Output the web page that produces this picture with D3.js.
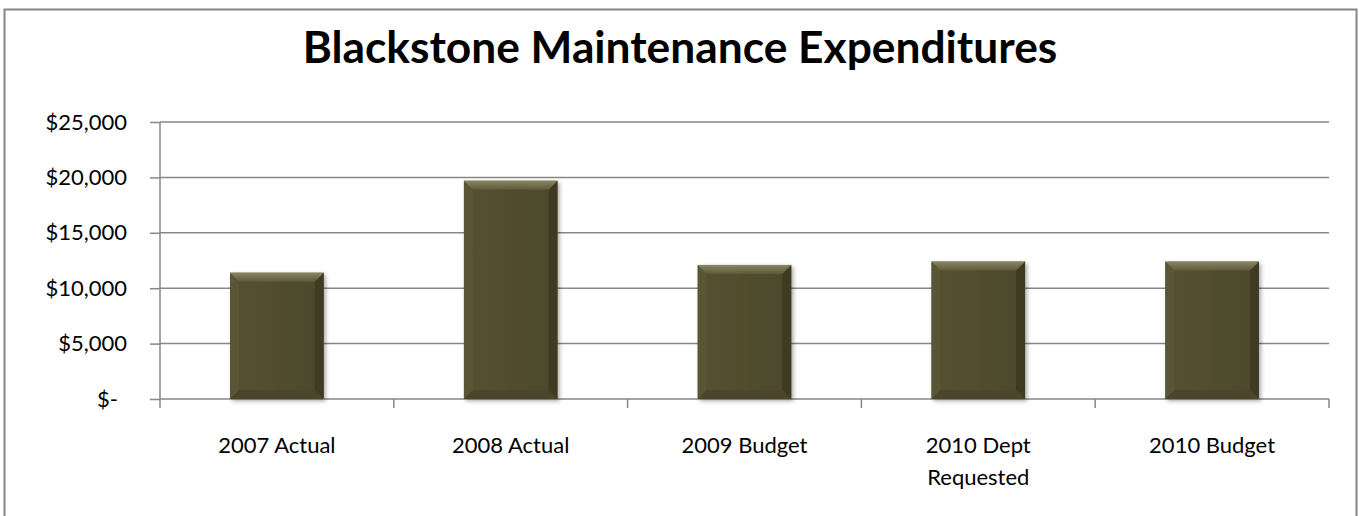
<!DOCTYPE html>
<html>
<head>
<meta charset="utf-8">
<script src="https://cdn.jsdelivr.net/npm/d3@7"></script>
<style>
  body { margin: 0; background: #fff; }
  text { font-family: Lato, "Open Sans", sans-serif; fill: #000; }
</style>
</head>
<body>
<div id="chart"></div>
<script>
// Chart data
let categories = ['2007 Actual', '2008 Actual', '2009 Budget', '2010 Dept Requested', '2010 Budget'];
let expenditures = [11400, 19700, 12100, 12400, 12400];
let yTicks = [0, 5000, 10000, 15000, 20000, 25000];
let chartTitle = 'Blackstone Maintenance Expenditures';

// Svg and plot dimensions
let svgWidth = 1359;
let svgHeight = 516;
let margins = { top: 122, bottom: 117, left: 160, right: 30 };
let plotWidth = svgWidth - margins.left - margins.right;
let plotHeight = svgHeight - margins.top - margins.bottom;
let labelSize = 22;

let svg = d3.select('#chart').append('svg')
    .attr('width', svgWidth)
    .attr('height', svgHeight);

// Defs: shading for the bevelled bars
let defs = svg.append('defs');
let face = defs.append('linearGradient').attr('id', 'face')
    .attr('x1', 0).attr('x2', 1).attr('y1', 0).attr('y2', 0);
face.append('stop').attr('offset', '0%').attr('stop-color', '#565132');
face.append('stop').attr('offset', '100%').attr('stop-color', '#4d482c');
let topBevel = defs.append('linearGradient').attr('id', 'topBevel')
    .attr('x1', 0).attr('x2', 0).attr('y1', 0).attr('y2', 1);
topBevel.append('stop').attr('offset', '0%').attr('stop-color', '#8a8563');
topBevel.append('stop').attr('offset', '100%').attr('stop-color', '#5e5939');
let shadow = defs.append('filter').attr('id', 'shadow')
    .attr('x', '-20%').attr('y', '-20%').attr('width', '140%').attr('height', '140%');
shadow.append('feDropShadow')
    .attr('dx', 2).attr('dy', 2).attr('stdDeviation', 2)
    .attr('flood-color', '#000').attr('flood-opacity', 0.35);

// Outer chart border
svg.append('rect')
    .attr('x', 4.5).attr('y', 9.5)
    .attr('width', 1352).attr('height', 520)
    .attr('fill', 'none')
    .attr('stroke', '#868686')
    .attr('stroke-width', 2);

let chart = svg.append('g')
    .attr('transform', `translate(${margins.left}, ${margins.top})`);

// Scales
let xScale = d3.scaleBand()
    .domain(categories)
    .range([0, plotWidth])
    .paddingInner(0.6)
    .paddingOuter(0.3);
let xBounds = d3.scaleBand().domain(categories).range([0, plotWidth]);
let yScale = d3.scaleLinear()
    .domain([0, 25000])
    .range([plotHeight, 0]);

// Gridlines
chart.selectAll('line.grid')
    .data(yTicks.slice(1)).enter()
    .append('line')
    .attr('class', 'grid')
    .attr('x1', 0).attr('x2', plotWidth)
    .attr('y1', d => yScale(d)).attr('y2', d => yScale(d))
    .attr('stroke', '#878787')
    .attr('stroke-width', 1.5);

// Y axis
let yAxis = d3.axisLeft(yScale)
    .tickValues(yTicks)
    .tickSize(10)
    .tickPadding(23)
    .tickFormat(d => d === 0 ? '$-' : '$' + d3.format(',')(d));
let yAxisG = chart.append('g').call(yAxis);
yAxisG.select('.domain').attr('stroke', '#878787').attr('stroke-width', 1.5).attr('d', `M0,${plotHeight}V0`);
yAxisG.selectAll('.tick line').attr('stroke', '#878787').attr('stroke-width', 1.5);
yAxisG.selectAll('.tick text')
    .style('font-size', `${labelSize}px`)
    .attr('fill', '#000')
    .attr('dx', d => d === 0 ? -9 : 0);

// X axis with ticks at category boundaries
let xAxisG = chart.append('g').attr('transform', `translate(0, ${plotHeight})`);
xAxisG.append('line')
    .attr('x1', 0).attr('x2', plotWidth)
    .attr('stroke', '#878787').attr('stroke-width', 1.5);
let bounds = categories.map(c => xBounds(c)).concat([plotWidth]);
xAxisG.selectAll('line.xtick')
    .data(bounds).enter()
    .append('line')
    .attr('class', 'xtick')
    .attr('x1', d => d).attr('x2', d => d)
    .attr('y1', 0).attr('y2', 9)
    .attr('stroke', '#878787').attr('stroke-width', 1.5);

// Category labels (wrapped like the original)
let labelLines = {
    '2010 Dept Requested': ['2010 Dept', 'Requested']
};
xAxisG.selectAll('text.xlabel')
    .data(categories).enter()
    .append('text')
    .attr('class', 'xlabel')
    .attr('text-anchor', 'middle')
    .style('font-size', `${labelSize}px`)
    .each(function(d) {
        let lines = labelLines[d] || [d];
        let cx = xBounds(d) + xBounds.bandwidth() / 2;
        lines.forEach((line, i) => {
            d3.select(this).append('tspan')
                .attr('x', cx)
                .attr('y', 54 + i * 32)
                .text(line);
        });
    });

// Bars with bevel
let bevel = 9;
let barGroups = chart.selectAll('g.bar')
    .data(categories.map((c, i) => ({ cat: c, value: expenditures[i] })))
    .enter()
    .append('g')
    .attr('class', 'bar');

barGroups.append('rect')
    .attr('x', d => xScale(d.cat))
    .attr('y', d => yScale(d.value))
    .attr('width', xScale.bandwidth())
    .attr('height', d => plotHeight - yScale(d.value))
    .attr('fill', 'url(#face)')
    .attr('filter', 'url(#shadow)');

function bevelPoly(d, side) {
    let x0 = xScale(d.cat), x1 = x0 + xScale.bandwidth();
    let y0 = yScale(d.value), y1 = plotHeight;
    let b = bevel;
    if (side === 'top') return [[x0, y0], [x1, y0], [x1 - b, y0 + b], [x0 + b, y0 + b]];
    if (side === 'left') return [[x0, y0], [x0 + b, y0 + b], [x0 + b, y1 - b], [x0, y1]];
    if (side === 'right') return [[x1, y0], [x1 - b, y0 + b], [x1 - b, y1 - b], [x1, y1]];
    return [[x0, y1], [x0 + b, y1 - b], [x1 - b, y1 - b], [x1, y1]];
}
let bevelFill = { top: 'url(#topBevel)', left: '#5a5535', right: '#3f3b23', bottom: '#4a452b' };
['left', 'right', 'bottom', 'top'].forEach(side => {
    barGroups.append('polygon')
        .attr('points', d => bevelPoly(d, side).map(p => p.join(',')).join(' '))
        .attr('fill', bevelFill[side]);
});

// Title, sized to match the original width
let title = svg.append('text')
    .attr('x', 680)
    .attr('y', 63)
    .attr('text-anchor', 'middle')
    .style('font-size', '36px')
    .style('font-weight', 'bold')
    .text(chartTitle);
let titleLen = title.node().getComputedTextLength();
title.style('font-size', `${36 * 755 / titleLen}px`);
</script>
</body>
</html>
